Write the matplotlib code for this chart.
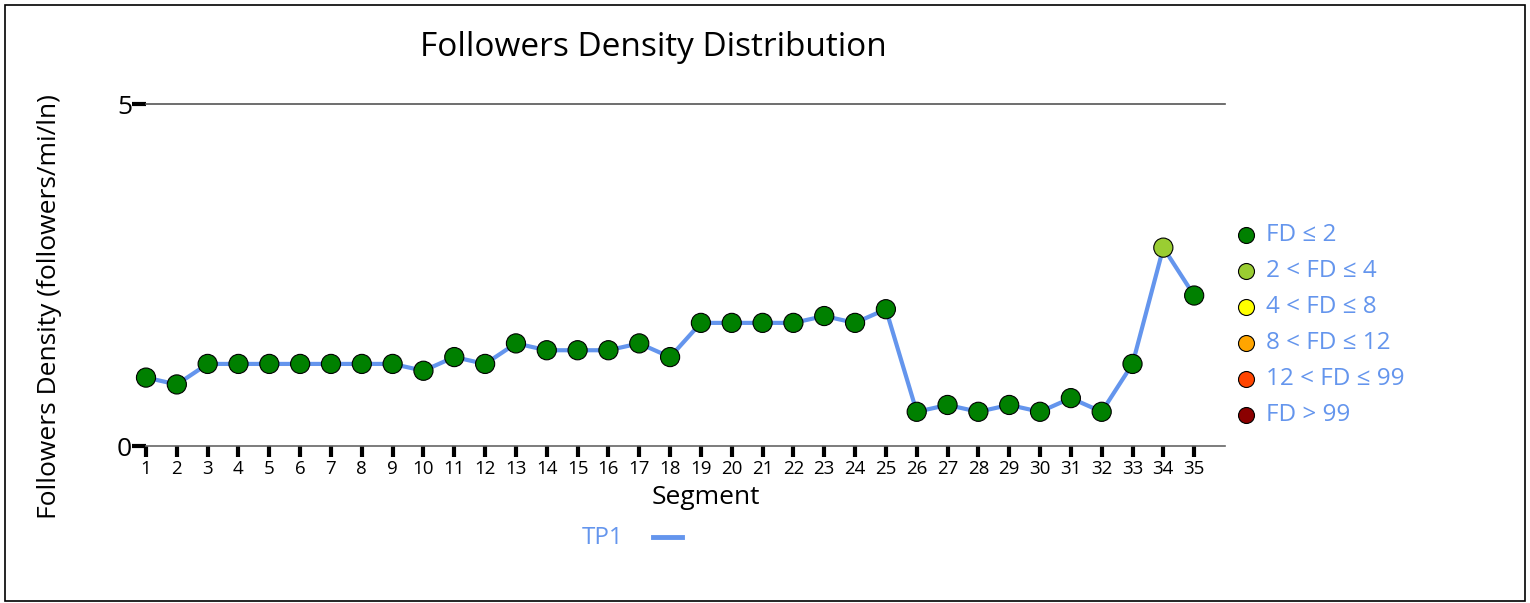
import matplotlib

matplotlib.use("Agg")
import matplotlib.pyplot as plt
import numpy as np

plt.rcParams["font.family"] = ["Open Sans", "DejaVu Sans"]

# Segment values
segments = np.arange(1, 36)
density = [1.0, 0.9, 1.2, 1.2, 1.2, 1.2, 1.2, 1.2, 1.2, 1.1,
           1.3, 1.2, 1.5, 1.4, 1.4, 1.4, 1.5, 1.3, 1.8, 1.8,
           1.8, 1.8, 1.9, 1.8, 2.0, 0.5, 0.6, 0.5, 0.6, 0.5,
           0.7, 0.5, 1.2, 2.9, 2.2]
# FD class of each point as shown by its marker colour (0 = FD <= 2, 1 = 2 < FD <= 4)
fd_class = [0] * 33 + [1, 0]

class_labels = ["FD ≤ 2", "2 < FD ≤ 4", "4 < FD ≤ 8", "8 < FD ≤ 12", "12 < FD ≤ 99", "FD > 99"]
class_colors = ["#008000", "#9ACD32", "#FFFF00", "#FFA500", "#FF4500", "#8B0000"]
LINE_COLOR = "#6495ED"

fig = plt.figure(figsize=(15.3, 6.03), dpi=100)
ax = fig.add_axes([146 / 1530, 1 - 446 / 603, (1225 - 146) / 1530, (446 - 104) / 603])

ax.plot(segments, density, color=LINE_COLOR, lw=3, zorder=2, solid_capstyle="round")
ax.scatter(segments, density, s=190, c=[class_colors[k] for k in fd_class],
           edgecolors="black", linewidths=0.8, zorder=3, clip_on=False)

ax.set_xlim(1, 36)
ax.set_ylim(0, 5)
ax.set_xticks(segments)
ax.set_xticklabels([str(s) for s in segments], fontsize=13.5)
ax.set_yticks([0, 5])
ax.set_yticklabels(["0", "5"], fontsize=19)
ax.tick_params(axis="x", direction="out", length=8, width=3, color="black", pad=2)
ax.tick_params(axis="y", direction="out", length=10, width=3, color="black", pad=0)
for side in ["left", "right", "top"]:
    ax.spines[side].set_visible(False)
ax.spines["bottom"].set_color("#666666")
ax.spines["bottom"].set_linewidth(1.2)
ax.axhline(5, color="#555555", lw=1.2, clip_on=False)

fig.text(706 / 1530, 1 - 497 / 603, "Segment", ha="center", va="center", fontsize=19)
fig.text(50 / 1530, 1 - 307 / 603, "Followers Density (followers/mi/ln)", rotation=90,
         ha="center", va="center", fontsize=19)
fig.text(653 / 1530, 1 - 47 / 603, "Followers Density Distribution",
         ha="center", va="center", fontsize=24)

# colour-class legend on the right
for i, (lab, col) in enumerate(zip(class_labels, class_colors)):
    y = 1 - (235 + 36 * i) / 603
    fig.lines.append(plt.Line2D([1246 / 1530], [y], marker="o", markersize=11.5,
                                markerfacecolor=col, markeredgecolor="black",
                                markeredgewidth=0.8, transform=fig.transFigure))
    fig.text(1266 / 1530, y, lab, ha="left", va="center", fontsize=17.5, color=LINE_COLOR)

# series legend below
fig.text(624 / 1530, 1 - 538 / 603, "TP1", ha="right", va="center", fontsize=17.5, color=LINE_COLOR)
fig.lines.append(plt.Line2D([653 / 1530, 682 / 1530], [1 - 537 / 603] * 2, color=LINE_COLOR,
                            lw=3.5, transform=fig.transFigure))

# outer frame
fig.patches.append(plt.Rectangle((5 / 1530, 1 - 601 / 603), 1520 / 1530, 596 / 603,
                                 fill=False, edgecolor="black", lw=1.2,
                                 transform=fig.transFigure))

fig.savefig("out.png", dpi=100)
